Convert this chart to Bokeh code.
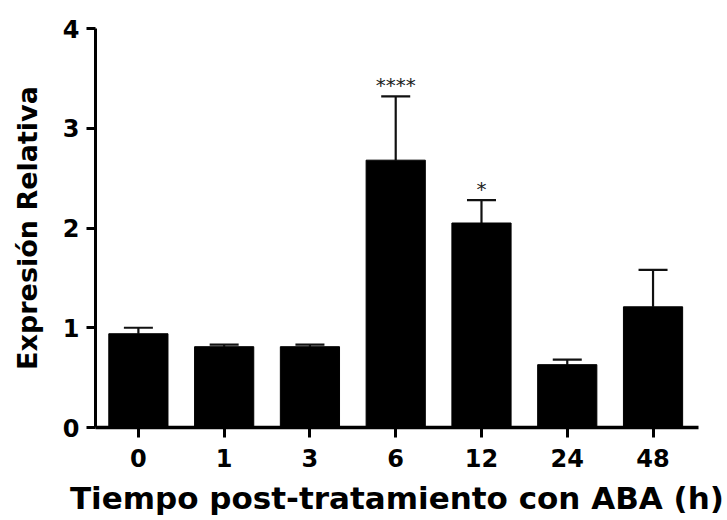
from bokeh.plotting import figure
from bokeh.models import ColumnDataSource, Range1d, FixedTicker, Whisker, TeeHead
from bokeh.core.properties import value
from bokeh.embed import file_html
from bokeh.resources import INLINE

# Relative expression after ABA treatment, mean and upper error per time point
times = ["0", "1", "3", "6", "12", "24", "48"]
expression = [0.94, 0.81, 0.81, 2.68, 2.05, 0.63, 1.21]
error_up = [0.06, 0.02, 0.02, 0.64, 0.23, 0.05, 0.37]
significance = ["", "", "", "****", "*", "", ""]

FONT = "DejaVu Sans"

pos = list(range(len(times)))
src = ColumnDataSource(dict(
    x=pos,
    top=expression,
    upper=[m + e for m, e in zip(expression, error_up)],
    sig=significance,
))

p = figure(width=727, height=520, output_backend="svg", toolbar_location=None,
           x_range=Range1d(-0.5, 6.53), y_range=Range1d(0, 4),
           min_border_left=95, min_border_right=29, min_border_top=28,
           min_border_bottom=93)
p.outline_line_color = None
p.xgrid.grid_line_color = None
p.ygrid.grid_line_color = None
p.background_fill_color = "white"
p.border_fill_color = "white"

p.vbar(x="x", top="top", width=0.69, source=src, fill_color="black",
       line_color="black", line_width=1)

err = Whisker(base="x", lower="top", upper="upper", source=src,
              line_color="#111111", line_width=2.2,
              upper_head=TeeHead(size=29, line_color="#111111", line_width=2.2),
              lower_head=None)
p.add_layout(err)

# significance stars above the error bars
p.text(x="x", y="upper", text="sig", source=src, text_align="center",
       text_baseline="alphabetic", y_offset=-11, text_font=value(FONT),
       text_font_size="20px", text_color="#222222")

# x axis: time points as labels
xa = p.xaxis[0]
xa.ticker = FixedTicker(ticks=pos)
xa.major_label_overrides = {i: t for i, t in zip(pos, times)}
xa.axis_label = "Tiempo post-tratamiento con ABA (h)"
xa.minor_tick_line_color = None
xa.major_tick_in = 0
xa.major_tick_out = 10
xa.major_tick_line_width = 3
xa.axis_line_width = 3.5
xa.major_label_standoff = 11
xa.major_label_text_font = FONT
xa.major_label_text_font_style = "bold"
xa.major_label_text_font_size = "24px"
xa.major_label_text_color = "black"
xa.axis_label_standoff = 10
xa.axis_label_text_font = FONT
xa.axis_label_text_font_style = "bold"
xa.axis_label_text_font_size = "31px"
xa.axis_label_text_color = "black"

# y axis
ya = p.yaxis[0]
ya.ticker = FixedTicker(ticks=[0, 1, 2, 3, 4])
ya.axis_label = "Expresión Relativa"
ya.minor_tick_line_color = None
ya.major_tick_in = 0
ya.major_tick_out = 9
ya.major_tick_line_width = 3
ya.axis_line_width = 3
ya.major_label_standoff = 7
ya.major_label_text_font = FONT
ya.major_label_text_font_style = "bold"
ya.major_label_text_font_size = "24px"
ya.major_label_text_color = "black"
ya.axis_label_standoff = 17
ya.axis_label_text_font = FONT
ya.axis_label_text_font_style = "bold"
ya.axis_label_text_font_size = "27px"
ya.axis_label_text_color = "black"

open("out.html", "w").write(file_html(p, INLINE))
